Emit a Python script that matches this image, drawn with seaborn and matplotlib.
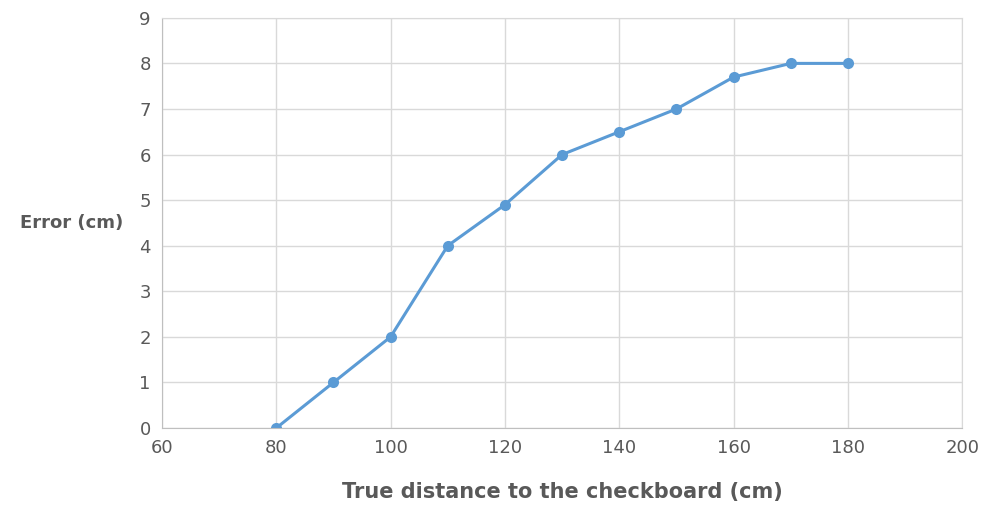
import pandas as pd
import matplotlib.pyplot as plt
import seaborn as sns

distance = [80, 90, 100, 110, 120, 130, 140, 150, 160, 170, 180]
error = [0, 1, 2, 4, 4.9, 6, 6.5, 7, 7.7, 8, 8]
x_ticks = [60, 80, 100, 120, 140, 160, 180, 200]
y_ticks = list(range(0, 10))

df = pd.DataFrame({"distance": distance, "error": error})

sns.set_style("white")
plt.rcParams['font.family'] = ['DejaVu Sans']

fig = plt.figure(figsize=(9.87, 5.09), dpi=100)
ax = fig.add_axes([0.164, 0.159, 0.811, 0.806])

sns.lineplot(data=df, x="distance", y="error", ax=ax, color='#5b9bd5',
             linewidth=2.2, marker='o', markersize=8, markeredgewidth=0)

ax.set_xlim(60, 200)
ax.set_ylim(0, 9)
ax.set_xticks(x_ticks)
ax.set_yticks(y_ticks)
ax.grid(True, color='#d9d9d9', linewidth=1)
ax.set_axisbelow(True)
for s in ax.spines.values():
    s.set_color('#d9d9d9')
ax.spines['left'].set_color('#bfbfbf')
ax.spines['bottom'].set_color('#bfbfbf')
ax.tick_params(axis='x', length=0, labelsize=13, labelcolor='#595959', pad=8)
ax.tick_params(axis='y', length=0, labelsize=13, labelcolor='#595959', pad=8)

ax.set_xlabel('True distance to the checkboard (cm)', fontsize=15,
              fontweight='bold', color='#595959', labelpad=18)
ax.set_ylabel('Error (cm)', fontsize=13, fontweight='bold', color='#595959',
              rotation=0, ha='right', va='center')
ax.yaxis.set_label_coords(-0.048, 0.5)

plt.savefig("out.png", dpi=100)
